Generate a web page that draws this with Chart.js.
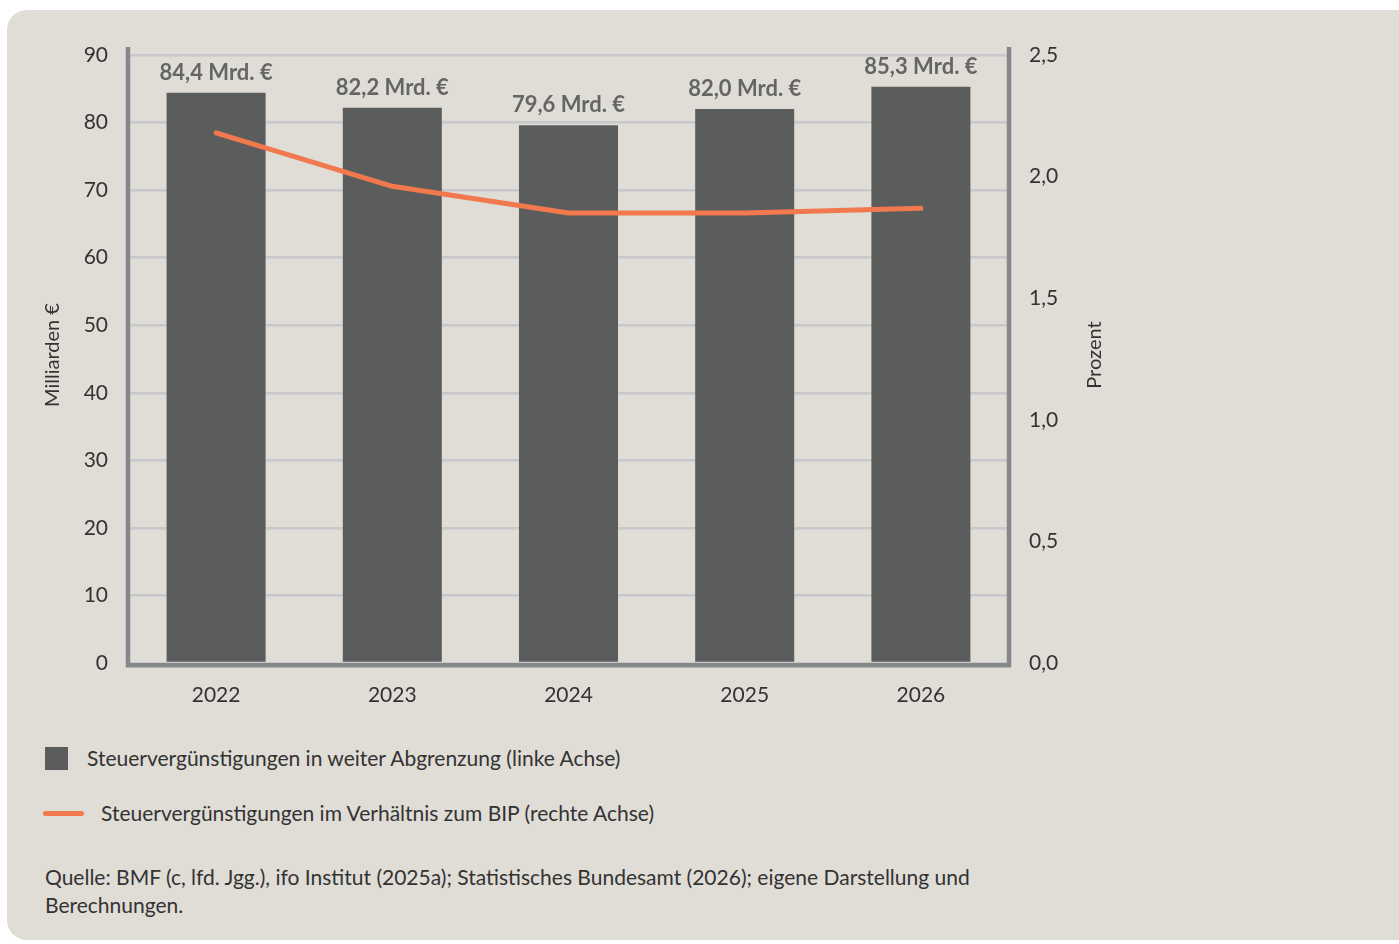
<!DOCTYPE html>
<html lang="de">
<head>
<meta charset="utf-8">
<script src="https://cdn.jsdelivr.net/npm/chart.js@4"></script>
<style>
  html, body { margin: 0; padding: 0; background: #ffffff; }
  body { width: 1399px; height: 944px; position: relative; overflow: hidden; font-family: Lato, sans-serif; color: #333333; }
  .panel { position: absolute; left: 7px; top: 10px; width: 1420px; height: 930px; background: #e0dcd6; border-radius: 20px; }
  .chart-box { position: absolute; left: 0; top: 0; width: 1150px; height: 720px; }
  .legend-row { position: absolute; font-size: 21px; line-height: 24px; white-space: nowrap; }
  .swatch-bar { position: absolute; width: 23px; height: 23px; background: #5b5d5c; }
  .swatch-line { position: absolute; width: 41px; height: 5px; border-radius: 3px; background: #f2784e; }
  .source { position: absolute; left: 45px; top: 863px; font-size: 21px; line-height: 28px; }
</style>
</head>
<body>
<div class="panel"></div>
<div class="chart-box"><canvas id="taxChart" width="1150" height="720"></canvas></div>

<div class="swatch-bar" style="left:45px; top:747px;"></div>
<div class="legend-row" style="left:87px; top:746px;">Steuervergünstigungen in weiter Abgrenzung (linke Achse)</div>
<div class="swatch-line" style="left:43px; top:811px;"></div>
<div class="legend-row" style="left:101px; top:801px;">Steuervergünstigungen im Verhältnis zum BIP (rechte Achse)</div>

<div class="source">Quelle: BMF (c, lfd. Jgg.), ifo Institut (2025a); Statistisches Bundesamt (2026); eigene Darstellung und<br>Berechnungen.</div>

<script>
// Data
const years = ['2022', '2023', '2024', '2025', '2026'];
const volumeBn = [84.4, 82.2, 79.6, 82.0, 85.3];        // Mrd. €, left axis
const shareOfGdp = [2.18, 1.96, 1.85, 1.85, 1.87];      // Prozent, right axis
const volumeLabels = ['84,4 Mrd. €', '82,2 Mrd. €', '79,6 Mrd. €', '82,0 Mrd. €', '85,3 Mrd. €'];

const barColor = '#5b5d5c';
const lineColor = '#f2784e';
const axisColor = '#85888a';
const gridColor = '#c8c8cb';
const textColor = '#333333';

Chart.defaults.font.family = 'Lato, sans-serif';
Chart.defaults.font.size = 21;
Chart.defaults.color = textColor;

// Axis lines (slightly taller than the plot area) and axis titles
const frameAndTitles = {
    id: 'frameAndTitles',
    beforeDatasetsDraw(chart) {
        const ctx = chart.ctx;
        const a = chart.chartArea;
        ctx.save();
        ctx.strokeStyle = axisColor;
        ctx.lineWidth = 4.5;
        ctx.lineCap = 'butt';
        ctx.beginPath();
        ctx.moveTo(a.left, a.top - 8);
        ctx.lineTo(a.left, a.bottom + 2.2);
        ctx.lineTo(a.right, a.bottom + 2.2);
        ctx.lineTo(a.right, a.top - 8);
        ctx.stroke();
        ctx.restore();
    },
    afterDraw(chart) {
        const ctx = chart.ctx;
        const a = chart.chartArea;
        const midY = (a.top + a.bottom) / 2 - 4;
        ctx.save();
        ctx.fillStyle = textColor;
        ctx.font = '20px Lato, sans-serif';
        ctx.textAlign = 'center';
        ctx.textBaseline = 'middle';
        ctx.translate(53, midY);
        ctx.rotate(-Math.PI / 2);
        ctx.fillText('Milliarden €', 0, 0);
        ctx.restore();

        ctx.save();
        ctx.fillStyle = textColor;
        ctx.font = '20px Lato, sans-serif';
        ctx.textAlign = 'center';
        ctx.textBaseline = 'middle';
        ctx.translate(1095, midY);
        ctx.rotate(-Math.PI / 2);
        ctx.fillText('Prozent', 0, 0);
        ctx.restore();
    }
};

// Value labels above the bars
const barValueLabels = {
    id: 'barValueLabels',
    afterDatasetsDraw(chart) {
        const meta = chart.getDatasetMeta(1);
        const ctx = chart.ctx;
        ctx.save();
        ctx.fillStyle = '#646565';
        ctx.font = 'bold 22px Lato, sans-serif';
        ctx.textAlign = 'center';
        ctx.textBaseline = 'alphabetic';
        meta.data.forEach(function(bar, i) {
            ctx.fillText(volumeLabels[i], bar.x, bar.y - 13);
        });
        ctx.restore();
    }
};

new Chart(document.getElementById('taxChart'), {
    data: {
        labels: years,
        datasets: [{
            type: 'line',
            label: 'Steuervergünstigungen im Verhältnis zum BIP (rechte Achse)',
            data: shareOfGdp,
            yAxisID: 'y1',
            borderColor: lineColor,
            borderWidth: 5,
            borderCapStyle: 'round',
            borderJoinStyle: 'round',
            pointRadius: 0,
            tension: 0,
            order: 0
        }, {
            type: 'bar',
            label: 'Steuervergünstigungen in weiter Abgrenzung (linke Achse)',
            data: volumeBn,
            yAxisID: 'y',
            backgroundColor: barColor,
            borderWidth: 0,
            categoryPercentage: 1,
            barPercentage: 0.562,
            order: 1
        }]
    },
    options: {
        responsive: false,
        animation: false,
        layout: { padding: { left: 30, top: 55, right: 0, bottom: 0 } },
        plugins: {
            legend: { display: false },
            tooltip: { enabled: false }
        },
        scales: {
            x: {
                grid: { display: false, drawTicks: false },
                border: { display: false },
                ticks: { padding: 20, color: textColor },
                afterFit(scale) { scale.height = 57; }
            },
            y: {
                position: 'left',
                min: 0,
                max: 90,
                grid: { color: gridColor, lineWidth: 2.5, drawTicks: false },
                border: { display: false },
                ticks: { stepSize: 10, padding: 20, color: textColor },
                afterFit(scale) { scale.width = 98; }
            },
            y1: {
                position: 'right',
                min: 0,
                max: 2.5,
                grid: { display: false, drawTicks: false },
                border: { display: false },
                ticks: {
                    stepSize: 0.5,
                    padding: 20,
                    color: textColor,
                    callback: function(v) { return v.toFixed(1).replace('.', ','); }
                },
                afterFit(scale) { scale.width = 141; }
            }
        }
    },
    plugins: [frameAndTitles, barValueLabels]
});
</script>
</body>
</html>
